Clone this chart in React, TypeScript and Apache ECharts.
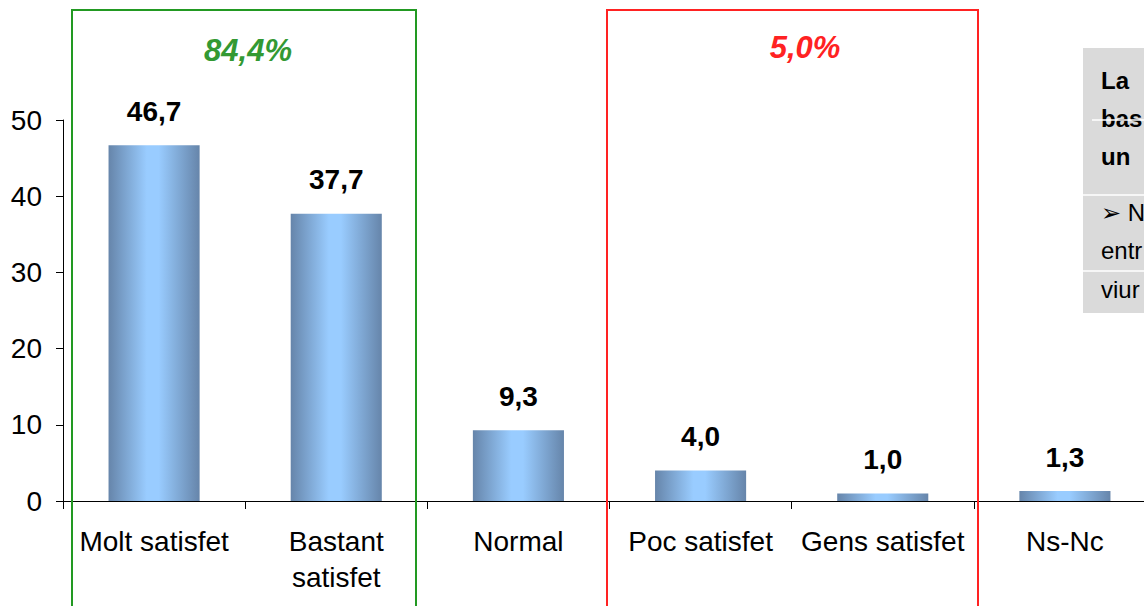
import React, { useEffect, useRef } from "react";
import * as echarts from "echarts";

const categories = ["Molt satisfet", "Bastant\nsatisfet", "Normal", "Poc satisfet", "Gens satisfet", "Ns-Nc"];
const values = [46.7, 37.7, 9.3, 4.0, 1.0, 1.3];
const groupLabels = ["84,4%", "5,0%"];
const boxBoldLines = ["La", "bas", "un"];
const boxLines = ["➢ N", "entr", "viur"];

const FONT = "'Liberation Sans', Arial, sans-serif";

export default function App() {
  const ref = useRef<HTMLDivElement>(null);
  useEffect(() => {
    document.body.style.margin = "0";
    const chart = echarts.init(ref.current!, null, { renderer: "svg" });
    const barGradient = new echarts.graphic.LinearGradient(0, 0, 1, 0, [
      { offset: 0, color: "#6685AA" },
      { offset: 0.42, color: "#99CCFF" },
      { offset: 0.55, color: "#99CCFF" },
      { offset: 1, color: "#6685AA" },
    ]);
    chart.setOption({
      animation: false,
      backgroundColor: "#ffffff",
      textStyle: { fontFamily: FONT },
      grid: {
        left: 63,
        top: 120,
        width: 1093,
        height: 381,
        containLabel: false,
        outerBoundsMode: "none",
      },
      xAxis: {
        type: "category",
        data: categories,
        boundaryGap: true,
        axisLine: { show: true, lineStyle: { color: "#000", width: 1 } },
        axisTick: { show: true, interval: 0, length: 8, alignWithLabel: false, lineStyle: { color: "#000" } },
        axisLabel: {
          interval: 0,
          margin: 22,
          color: "#000",
          fontSize: 28,
          lineHeight: 36,
          fontFamily: FONT,
          hideOverlap: false,
        },
      },
      yAxis: {
        type: "value",
        min: 0,
        max: 50,
        interval: 10,
        splitLine: { show: false },
        axisLine: { show: true, lineStyle: { color: "#000", width: 1 } },
        axisTick: { show: true, length: 7, inside: false, lineStyle: { color: "#000" } },
        axisLabel: { margin: 21, color: "#000", fontSize: 28, fontFamily: FONT },
      },
      series: [
        {
          type: "bar",
          data: values,
          barWidth: "50%",
          itemStyle: { color: barGradient },
          label: {
            show: true,
            position: "top",
            distance: 20,
            color: "#000",
            fontWeight: "bold",
            fontSize: 28,
            fontFamily: FONT,
            formatter: (p: any) => Number(p.value).toFixed(1).replace(".", ","),
          },
        },
      ],
      graphic: [
        {
          type: "rect",
          shape: { x: 72, y: 10, width: 344, height: 700 },
          style: { fill: "none", stroke: "#229922", lineWidth: 2 },
          z: 10,
        },
        {
          type: "rect",
          shape: { x: 607, y: 10, width: 371, height: 700 },
          style: { fill: "none", stroke: "#FF2222", lineWidth: 2 },
          z: 10,
        },
        {
          type: "text",
          x: 248,
          y: 50,
          style: {
            text: groupLabels[0],
            fill: "#339933",
            font: `italic bold 31px ${FONT}`,
            textAlign: "center",
            textVerticalAlign: "middle",
          },
          z: 10,
        },
        {
          type: "text",
          x: 805,
          y: 47,
          style: {
            text: groupLabels[1],
            fill: "#FF2222",
            font: `italic bold 31px ${FONT}`,
            textAlign: "center",
            textVerticalAlign: "middle",
          },
          z: 10,
        },
        {
          type: "rect",
          shape: { x: 1083, y: 48, width: 80, height: 265 },
          style: { fill: "#DADADA" },
          z: 5,
        },
        { type: "line", shape: { x1: 1092, y1: 120, x2: 1144, y2: 120 }, style: { stroke: "#ffffff", lineWidth: 1.5 }, z: 7 },
        { type: "line", shape: { x1: 1083, y1: 195, x2: 1144, y2: 195 }, style: { stroke: "#ffffff", lineWidth: 1.5 }, z: 7 },
        { type: "line", shape: { x1: 1083, y1: 271, x2: 1144, y2: 271 }, style: { stroke: "#ffffff", lineWidth: 1.5 }, z: 7 },
        ...boxBoldLines.map((t, i) => ({
          type: "text",
          x: 1101,
          y: [80, 118, 156][i],
          style: { text: t, fill: "#000", font: `bold 24px ${FONT}`, textVerticalAlign: "middle" },
          z: 6,
        })),
        ...boxLines.map((t, i) => ({
          type: "text",
          x: 1101,
          y: [212, 250, 289][i],
          style: { text: t, fill: "#000", font: `24px ${FONT}`, textVerticalAlign: "middle" },
          z: 6,
        })),
      ],
    });
    return () => chart.dispose();
  }, []);
  return <div ref={ref} style={{ width: 1144, height: 606 }} />;
}
